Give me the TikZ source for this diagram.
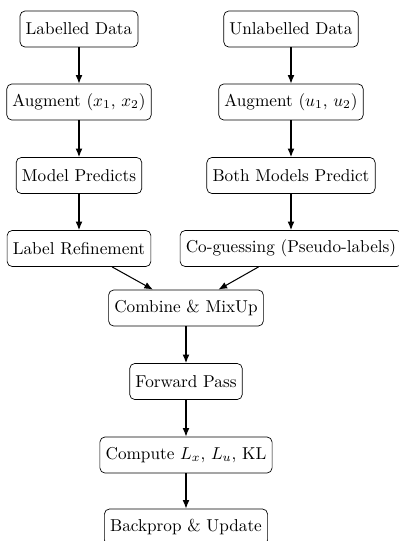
\documentclass[tikz,border=0pt]{standalone}
\usetikzlibrary{arrows.meta}
\begin{document}
\begin{tikzpicture}[x=0.5814pt,y=-0.5814pt,
  box/.style={draw, rounded corners=3pt, minimum height=21pt, inner xsep=3.33pt, align=center},
  arr/.style={-{Latex[length=5pt,width=4pt]}, semithick}]
\useasboundingbox (0,0) rectangle (399,541);
\node[box] (ld) at (79,29) {Labelled Data};
\node[box] (ax) at (79,102) {Augment ($x_1$, $x_2$)};
\node[box] (mp) at (79,175.5) {Model Predicts};
\node[box] (lr) at (79,248.5) {Label Refinement};
\node[box] (ud) at (291,29) {Unlabelled Data};
\node[box] (au) at (291,102) {Augment ($u_1$, $u_2$)};
\node[box] (bm) at (291,175.5) {Both Models Predict};
\node[box] (cg) at (291,248.5) {Co-guessing (Pseudo-labels)};
\node[box] (cm) at (186,308) {Combine \& MixUp};
\node[box] (fp) at (186,381.5) {Forward Pass};
\node[box] (cl) at (186,455) {Compute $L_x$, $L_u$, KL};
\node[box] (bp) at (186,527) {Backprop \& Update};
\draw[arr] (ld) -- (ax);
\draw[arr] (ax) -- (mp);
\draw[arr] (mp) -- (lr);
\draw[arr] (ud) -- (au);
\draw[arr] (au) -- (bm);
\draw[arr] (bm) -- (cg);
\draw[arr] (lr) -- (cm);
\draw[arr] (cg) -- (cm);
\draw[arr] (cm) -- (fp);
\draw[arr] (fp) -- (cl);
\draw[arr] (cl) -- (bp);
\end{tikzpicture}
\end{document}
